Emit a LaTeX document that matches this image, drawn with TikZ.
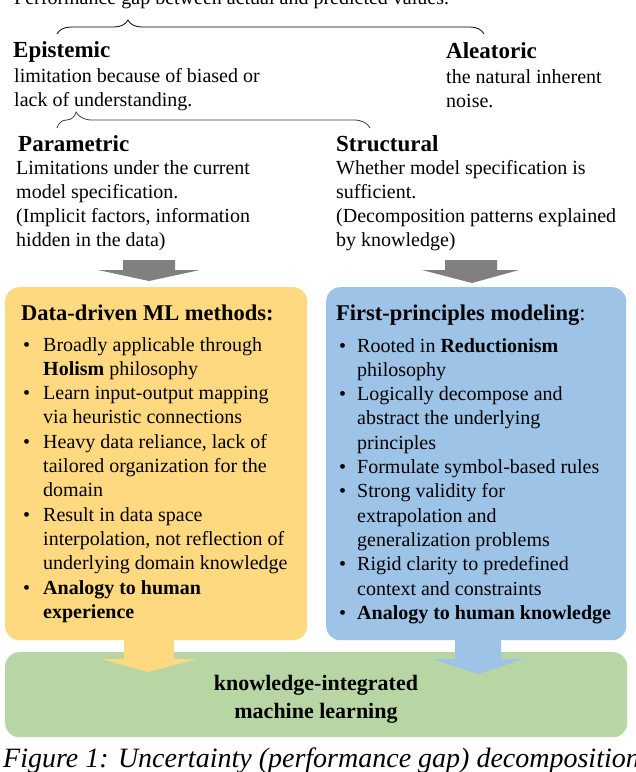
\documentclass[tikz,border=0pt]{standalone}
\usepackage{fontspec}
\setmainfont{Liberation Serif}
\usetikzlibrary{decorations.pathreplacing,calc}
\definecolor{yel}{RGB}{255,217,128}
\definecolor{blu}{RGB}{157,195,230}
\definecolor{grn}{RGB}{183,214,163}
\definecolor{arrgray}{RGB}{128,128,128}
\newcommand{\bulA}{\makebox[20pt][l]{\textbullet}}
\newcommand{\conA}{\hspace*{20pt}}
\newcommand{\bulB}{\makebox[18pt][l]{\textbullet}}
\newcommand{\conB}{\hspace*{18pt}}
\begin{document}
\begin{tikzpicture}[x=1pt,y=-1pt,
  txt/.style={anchor=base west, inner sep=0pt, align=left, font=\fontsize{20}{24.3}\selectfont},
  hdr/.style={anchor=base west, inner sep=0pt, font=\fontsize{23}{26}\selectfont\bfseries},
  ttl/.style={anchor=base west, inner sep=0pt, font=\fontsize{22.5}{26}\selectfont\bfseries},
  panel/.style={rounded corners=14pt, inner sep=0pt, anchor=north west, draw=none},
  bracestyle/.style={decorate, line width=0.8pt},
]
\useasboundingbox (0,0) rectangle (636,772);

% top line
\node[txt] (top) at (14,4) {Performance gap between actual and predicted values.};

% braces
\draw[bracestyle, black, decoration={brace, amplitude=14pt, aspect=0.166}] (57,34) -- (484,34);
\draw[bracestyle, black!75, decoration={brace, amplitude=16pt, aspect=0.061}] (57,128) -- (370,128);

% epistemic / aleatoric (multi-line nodes: base = last line)
\node[hdr] (epi) at (13,57) {Epistemic};
\node[txt] (epit) at (14,106.3) {limitation because of biased or\\lack of understanding.};
\node[hdr] (ale) at (446,58) {Aleatoric};
\node[txt] (alet) at (446,107.3) {the natural inherent\\noise.};

% parametric / structural
\node[hdr] (par) at (18,151) {Parametric};
\node[txt] (part) at (16,246.9) {Limitations under the current\\model specification.\\(Implicit factors, information\\hidden in the data)};
\node[hdr] (str) at (336,151) {Structural};
\node[txt] (strt) at (336,246.9) {Whether model specification is\\sufficient.\\(Decomposition patterns explained\\by knowledge)};

% gray arrows
\fill[arrgray] (123,260) -- (175,260) -- (175,270) -- (200,270) -- (149,281) -- (98,270) -- (123,270) -- cycle;
\fill[arrgray] (445,260) -- (497,260) -- (497,270) -- (519,270) -- (472,283) -- (422,270) -- (445,270) -- cycle;

% panels
\node[panel, fill=grn, minimum width=622pt, minimum height=85pt] (gbox) at (5,652) {};
\node[panel, fill=yel, minimum width=302pt, minimum height=353pt] (lbox) at (5,287) {};
\node[panel, fill=blu, minimum width=300pt, minimum height=353pt] (rbox) at (326,287) {};

% colored arrows into green box
\fill[yel] (124,630) -- (174,630) -- (174,659) -- (197,659) -- (148,672) -- (101,659) -- (124,659) -- cycle;
\fill[blu] (455,630) -- (501,630) -- (501,659) -- (523,659) -- (478,674) -- (433,659) -- (455,659) -- cycle;

% left panel text
\node[ttl] (ltitle) at (21,320) {Data-driven ML methods:};
\node[txt] (ltext) at (23,618.3) {\bulA Broadly applicable through\\
\conA\textbf{Holism} philosophy\\
\bulA Learn input-output mapping\\
\conA via heuristic connections\\
\bulA Heavy data reliance, lack of\\
\conA tailored organization for the\\
\conA domain\\
\bulA Result in data space\\
\conA interpolation, not reflection of\\
\conA underlying domain knowledge\\
\bulA\textbf{Analogy to human}\\
\conA\textbf{experience}};

% right panel text
\node[ttl] (rtitle) at (336,320) {First-principles modeling{\mdseries:}};
\node[txt] (rtext) at (339,619.3) {\bulB Rooted in \textbf{Reductionism}\\
\conB philosophy\\
\bulB Logically decompose and\\
\conB abstract the underlying\\
\conB principles\\
\bulB Formulate symbol-based rules\\
\bulB Strong validity for\\
\conB extrapolation and\\
\conB generalization problems\\
\bulB Rigid clarity to predefined\\
\conB context and constraints\\
\bulB\textbf{Analogy to human knowledge}};

% green text
\node[anchor=base, inner sep=0pt, align=center, font=\fontsize{22}{28}\selectfont\bfseries] (gtext) at (316,718) {knowledge-integrated\\machine learning};

% caption
\node[anchor=base west, inner sep=0pt, font=\fontsize{28}{30}\selectfont\itshape] (cap) at (3,767) {Figure 1: Uncertainty (performance gap) decomposition};
\end{tikzpicture}
\end{document}
